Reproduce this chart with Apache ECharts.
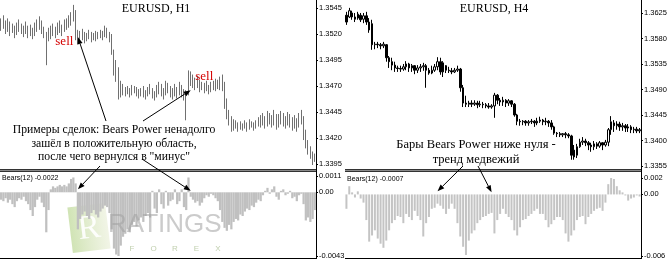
<!DOCTYPE html>
<html><head><meta charset="utf-8">
<script src="https://cdn.jsdelivr.net/npm/echarts@6/dist/echarts.min.js"></script>
<style>html,body{margin:0;padding:0;background:#fff}#c{width:670px;height:261px}</style>
</head><body><div id="c"></div>
<script>
// ---- DATA ----
// EURUSD H1 bars: [open, close, low, high]
const leftCandles = [
[1.3530,1.3527,1.3523,1.3535],[1.3527,1.3533,1.3525,1.3538],[1.3533,1.3524,1.3520,1.3533],[1.3524,1.3530,1.3522,1.3535],[1.3530,1.3521,1.3518,1.3532],
[1.3521,1.3526,1.3521,1.3530],[1.3526,1.3519,1.3516,1.3528],[1.3519,1.3528,1.3519,1.3531],[1.3528,1.3525,1.3522,1.3534],[1.3525,1.3522,1.3520,1.3530],
[1.3522,1.3520,1.3517,1.3528],[1.3520,1.3528,1.3520,1.3532],[1.3528,1.3519,1.3516,1.3528],[1.3519,1.3525,1.3518,1.3529],[1.3525,1.3518,1.3515,1.3526],
[1.3518,1.3529,1.3518,1.3531],[1.3529,1.3531,1.3522,1.3534],[1.3531,1.3528,1.3524,1.3537],[1.3528,1.3522,1.3520,1.3533],[1.3522,1.3519,1.3516,1.3527],
[1.3519,1.3515,1.3490,1.3522],[1.3515,1.3522,1.3513,1.3526],[1.3522,1.3519,1.3515,1.3528],[1.3519,1.3526,1.3518,1.3530],[1.3526,1.3521,1.3516,1.3527],
[1.3521,1.3528,1.3519,1.3531],[1.3528,1.3525,1.3521,1.3533],[1.3525,1.3523,1.3518,1.3529],[1.3523,1.3531,1.3522,1.3534],[1.3531,1.3528,1.3524,1.3535],
[1.3528,1.3535,1.3526,1.3538],[1.3535,1.3538,1.3528,1.3541],[1.3538,1.3540,1.3532,1.3548],[1.3540,1.3517,1.3514,1.3543],[1.3517,1.3519,1.3510,1.3524],
[1.3519,1.3516,1.3512,1.3523],[1.3516,1.3520,1.3514,1.3525],[1.3520,1.3515,1.3511,1.3522],[1.3515,1.3518,1.3513,1.3521],[1.3518,1.3521,1.3515,1.3524],
[1.3521,1.3516,1.3512,1.3522],[1.3516,1.3519,1.3514,1.3521],[1.3519,1.3517,1.3513,1.3523],[1.3517,1.3520,1.3515,1.3522],[1.3520,1.3519,1.3516,1.3524],
[1.3519,1.3521,1.3514,1.3523],[1.3521,1.3525,1.3517,1.3528],[1.3525,1.3520,1.3516,1.3526],[1.3520,1.3517,1.3512,1.3522],[1.3517,1.3503,1.3500,1.3520],
[1.3503,1.3485,1.3480,1.3505],[1.3485,1.3479,1.3474,1.3495],[1.3479,1.3464,1.3457,1.3488],[1.3464,1.3470,1.3459,1.3475],[1.3470,1.3465,1.3461,1.3472],
[1.3465,1.3463,1.3460,1.3469],[1.3463,1.3467,1.3462,1.3470],[1.3467,1.3462,1.3459,1.3468],[1.3462,1.3468,1.3461,1.3471],[1.3468,1.3465,1.3463,1.3470],
[1.3465,1.3462,1.3460,1.3469],[1.3462,1.3460,1.3458,1.3467],[1.3460,1.3465,1.3460,1.3468],[1.3465,1.3462,1.3459,1.3470],[1.3462,1.3460,1.3457,1.3466],
[1.3460,1.3466,1.3460,1.3469],[1.3466,1.3468,1.3462,1.3472],[1.3468,1.3461,1.3458,1.3468],[1.3461,1.3459,1.3456,1.3465],[1.3459,1.3467,1.3459,1.3471],
[1.3467,1.3471,1.3462,1.3474],[1.3471,1.3464,1.3460,1.3472],[1.3464,1.3461,1.3457,1.3468],[1.3461,1.3470,1.3461,1.3475],[1.3470,1.3467,1.3463,1.3473],
[1.3467,1.3462,1.3459,1.3470],[1.3462,1.3460,1.3457,1.3468],[1.3460,1.3468,1.3460,1.3472],[1.3468,1.3463,1.3458,1.3469],[1.3463,1.3470,1.3461,1.3474],
[1.3470,1.3465,1.3459,1.3471],[1.3465,1.3460,1.3456,1.3467],[1.3460,1.3464,1.3437,1.3466],[1.3464,1.3478,1.3461,1.3485],[1.3478,1.3475,1.3470,1.3484],
[1.3475,1.3472,1.3468,1.3481],[1.3472,1.3470,1.3466,1.3478],[1.3470,1.3474,1.3468,1.3480],[1.3474,1.3468,1.3464,1.3476],[1.3468,1.3470,1.3466,1.3474],
[1.3470,1.3466,1.3463,1.3473],[1.3466,1.3471,1.3465,1.3475],[1.3471,1.3467,1.3462,1.3471],[1.3467,1.3470,1.3464,1.3474],[1.3470,1.3472,1.3466,1.3475],
[1.3472,1.3469,1.3465,1.3477],[1.3469,1.3473,1.3467,1.3476],[1.3473,1.3476,1.3466,1.3479],[1.3476,1.3470,1.3465,1.3481],[1.3470,1.3452,1.3448,1.3474],
[1.3452,1.3441,1.3438,1.3458],[1.3441,1.3435,1.3432,1.3447],[1.3435,1.3431,1.3426,1.3441],[1.3431,1.3434,1.3427,1.3438],[1.3434,1.3432,1.3429,1.3437],
[1.3432,1.3429,1.3426,1.3435],[1.3429,1.3433,1.3428,1.3436],[1.3433,1.3430,1.3427,1.3434],[1.3430,1.3435,1.3429,1.3437],[1.3435,1.3429,1.3426,1.3435],
[1.3429,1.3434,1.3428,1.3438],[1.3434,1.3432,1.3430,1.3436],[1.3432,1.3430,1.3427,1.3435],[1.3430,1.3435,1.3429,1.3437],[1.3435,1.3437,1.3431,1.3440],
[1.3437,1.3434,1.3430,1.3442],[1.3434,1.3440,1.3432,1.3444],[1.3440,1.3435,1.3429,1.3441],[1.3435,1.3442,1.3431,1.3446],[1.3442,1.3438,1.3433,1.3444],
[1.3438,1.3434,1.3430,1.3442],[1.3434,1.3443,1.3432,1.3447],[1.3443,1.3433,1.3428,1.3443],[1.3433,1.3439,1.3430,1.3443],[1.3439,1.3442,1.3433,1.3446],
[1.3442,1.3436,1.3431,1.3444],[1.3436,1.3434,1.3429,1.3441],[1.3434,1.3441,1.3432,1.3445],[1.3441,1.3437,1.3430,1.3443],[1.3437,1.3432,1.3427,1.3440],
[1.3432,1.3438,1.3429,1.3442],[1.3438,1.3431,1.3426,1.3439],[1.3431,1.3440,1.3430,1.3444],[1.3440,1.3437,1.3433,1.3447],[1.3437,1.3424,1.3418,1.3441],
[1.3424,1.3413,1.3410,1.3428],[1.3413,1.3408,1.3404,1.3418],[1.3408,1.3403,1.3400,1.3412],[1.3403,1.3401,1.3394,1.3407],[1.3401,1.3402,1.3397,1.3405]
];
// Bears Power(12) on H1
const leftBears = [
-0.0005,-0.0006,-0.0004,-0.0007,-0.0005,-0.0008,-0.0010,-0.0006,-0.0004,-0.0005,
-0.0003,-0.0006,-0.0008,-0.0012,-0.0016,-0.0010,-0.0005,-0.0003,-0.0007,-0.0010,
-0.0027,-0.0012,0.0002,0.0004,0.0003,0.0004,0.0005,0.0004,0.0005,0.0004,
0.0006,0.0009,0.0010,0.0006,-0.0025,-0.0018,-0.0015,-0.0013,-0.0016,-0.0018,
-0.0014,-0.0012,-0.0015,-0.0017,-0.0013,-0.0011,-0.0009,-0.0010,-0.0014,-0.0025,
-0.0038,-0.0042,-0.0043,-0.0036,-0.0030,-0.0028,-0.0025,-0.0027,-0.0022,-0.0020,
-0.0023,-0.0019,-0.0017,-0.0020,-0.0016,-0.0014,-0.0017,0.0001,-0.0011,-0.0014,
0.0002,-0.0008,-0.0011,0.0001,-0.0009,-0.0006,-0.0005,0.0002,-0.0008,-0.0006,
0.0002,-0.0010,-0.0012,0.0010,-0.0003,-0.0005,-0.0007,-0.0006,-0.0009,-0.0007,
-0.0004,-0.0002,-0.0003,-0.0001,-0.0002,-0.0004,-0.0006,-0.0012,-0.0020,-0.0024,
-0.0026,-0.0022,-0.0025,-0.0020,-0.0018,-0.0019,-0.0015,-0.0016,-0.0013,-0.0011,
-0.0012,-0.0009,-0.0010,-0.0007,-0.0005,-0.0006,-0.0002,0.0001,0.0003,-0.0001,
0.0002,0.0004,-0.0003,-0.0005,0.0001,0.0002,-0.0002,-0.0001,0.0001,-0.0004,
-0.0003,-0.0006,-0.0002,-0.0001,-0.0008,-0.0019,-0.0017,-0.0020,-0.0018,-0.0012
];
// EURUSD H4 bars: [open, close, low, high]
const rightCandles = [
[1.3621,1.3609,1.3604,1.3627],[1.3618,1.3629,1.3616,1.3634],[1.3625,1.3618,1.3613,1.3629],[1.3618,1.3614,1.3609,1.3625],[1.3616,1.3623,1.3613,1.3627],
[1.3621,1.3613,1.3609,1.3625],[1.3614,1.3620,1.3607,1.3625],[1.3620,1.3609,1.3604,1.3627],[1.3609,1.3595,1.3590,1.3616],[1.3606,1.3569,1.3560,1.3613],
[1.3569,1.3570,1.3561,1.3574],[1.3570,1.3569,1.3563,1.3574],[1.3569,1.3567,1.3561,1.3572],[1.3567,1.3570,1.3563,1.3574],[1.3569,1.3546,1.3539,1.3570],
[1.3546,1.3539,1.3528,1.3549],[1.3539,1.3533,1.3524,1.3546],[1.3533,1.3528,1.3521,1.3539],[1.3528,1.3527,1.3521,1.3532],[1.3527,1.3526,1.3521,1.3532],
[1.3526,1.3530,1.3523,1.3535],[1.3530,1.3535,1.3524,1.3540],[1.3535,1.3528,1.3521,1.3537],[1.3528,1.3532,1.3521,1.3535],[1.3532,1.3524,1.3517,1.3533],
[1.3524,1.3528,1.3519,1.3533],[1.3528,1.3530,1.3521,1.3535],[1.3530,1.3532,1.3523,1.3537],[1.3532,1.3524,1.3493,1.3535],[1.3524,1.3519,1.3516,1.3528],
[1.3519,1.3524,1.3517,1.3532],[1.3524,1.3530,1.3521,1.3535],[1.3530,1.3539,1.3524,1.3547],[1.3539,1.3521,1.3516,1.3546],[1.3521,1.3537,1.3512,1.3540],
[1.3532,1.3524,1.3519,1.3533],[1.3524,1.3523,1.3519,1.3530],[1.3523,1.3521,1.3517,1.3528],[1.3521,1.3524,1.3519,1.3528],[1.3524,1.3526,1.3521,1.3532],
[1.3526,1.3493,1.3486,1.3528],[1.3493,1.3466,1.3459,1.3498],[1.3466,1.3464,1.3459,1.3479],[1.3464,1.3466,1.3459,1.3470],[1.3466,1.3464,1.3459,1.3471],
[1.3464,1.3466,1.3461,1.3471],[1.3466,1.3463,1.3457,1.3470],[1.3463,1.3464,1.3459,1.3470],[1.3464,1.3463,1.3457,1.3468],[1.3463,1.3461,1.3457,1.3466],
[1.3461,1.3459,1.3456,1.3466],[1.3459,1.3461,1.3456,1.3464],[1.3461,1.3480,1.3440,1.3484],[1.3480,1.3471,1.3464,1.3482],[1.3471,1.3468,1.3461,1.3475],
[1.3468,1.3471,1.3461,1.3477],[1.3471,1.3466,1.3459,1.3473],[1.3466,1.3470,1.3461,1.3473],[1.3470,1.3464,1.3459,1.3471],[1.3464,1.3445,1.3442,1.3466],
[1.3445,1.3434,1.3427,1.3447],[1.3434,1.3433,1.3426,1.3438],[1.3433,1.3434,1.3427,1.3436],[1.3434,1.3431,1.3426,1.3436],[1.3431,1.3433,1.3426,1.3436],
[1.3433,1.3434,1.3429,1.3438],[1.3434,1.3431,1.3424,1.3436],[1.3431,1.3434,1.3427,1.3440],[1.3434,1.3436,1.3431,1.3442],[1.3436,1.3433,1.3427,1.3438],
[1.3433,1.3434,1.3427,1.3440],[1.3434,1.3431,1.3424,1.3436],[1.3431,1.3424,1.3419,1.3436],[1.3424,1.3413,1.3410,1.3426],[1.3413,1.3412,1.3406,1.3415],
[1.3412,1.3410,1.3406,1.3415],[1.3410,1.3412,1.3406,1.3413],[1.3412,1.3410,1.3404,1.3415],[1.3410,1.3408,1.3404,1.3413],[1.3408,1.3374,1.3366,1.3410],
[1.3383,1.3371,1.3366,1.3392],[1.3374,1.3389,1.3369,1.3394],[1.3389,1.3397,1.3387,1.3403],[1.3397,1.3399,1.3392,1.3406],[1.3399,1.3396,1.3390,1.3403],
[1.3396,1.3392,1.3383,1.3399],[1.3392,1.3389,1.3380,1.3396],[1.3389,1.3394,1.3383,1.3399],[1.3394,1.3390,1.3385,1.3397],[1.3390,1.3396,1.3387,1.3399],
[1.3396,1.3392,1.3383,1.3397],[1.3392,1.3397,1.3389,1.3401],[1.3397,1.3419,1.3390,1.3422],[1.3419,1.3433,1.3410,1.3443],[1.3431,1.3426,1.3415,1.3436],
[1.3426,1.3429,1.3419,1.3434],[1.3429,1.3424,1.3417,1.3433],[1.3424,1.3426,1.3417,1.3431],[1.3426,1.3422,1.3415,1.3429],[1.3422,1.3424,1.3415,1.3429],
[1.3424,1.3419,1.3413,1.3427],[1.3419,1.3420,1.3413,1.3424],[1.3420,1.3417,1.3413,1.3424],[1.3417,1.3419,1.3413,1.3422]
];
// Bears Power(12) on H4
const rightBears = [
-0.0014,0.0008,0.0002,-0.0003,0.0003,-0.0004,-0.0008,-0.0025,-0.0046,-0.0040,
-0.0035,-0.0043,-0.0048,-0.0052,-0.0045,-0.0035,-0.0028,-0.0025,-0.0021,-0.0022,
-0.0028,-0.0019,-0.0022,-0.0025,-0.0016,-0.0021,-0.0025,-0.0041,-0.0028,-0.0022,
-0.0014,-0.0013,-0.0009,-0.0011,-0.0014,-0.0019,-0.0014,-0.0009,-0.0014,-0.0028,
-0.0041,-0.0051,-0.0059,-0.0045,-0.0038,-0.0035,-0.0028,-0.0025,-0.0022,-0.0021,
-0.0019,-0.0018,-0.0038,-0.0025,-0.0019,-0.0014,-0.0019,-0.0022,-0.0025,-0.0035,
-0.0040,-0.0032,-0.0025,-0.0024,-0.0021,-0.0019,-0.0016,-0.0014,-0.0019,-0.0019,
-0.0025,-0.0032,-0.0029,-0.0025,-0.0022,-0.0022,-0.0025,-0.0038,-0.0046,-0.0040,
-0.0035,-0.0025,-0.0022,-0.0021,-0.0029,-0.0022,-0.0019,-0.0016,-0.0014,-0.0013,
-0.0016,-0.0008,0.0010,0.0016,0.0015,0.0008,0.0004,0.0002,-0.0001,-0.0006,
-0.0004,-0.0003,-0.0001,-0.0002
];
const leftCategories = leftCandles.map((_, i) => 'H1 #' + (i + 1));
const rightCategories = rightCandles.map((_, i) => 'H4 #' + (i + 1));
const leftPriceTicks = [1.3395, 1.3420, 1.3445, 1.3470, 1.3495, 1.3520, 1.3545];
const rightPriceTicks = [1.3355, 1.3400, 1.3445, 1.3490, 1.3535, 1.3580, 1.3625];
const leftBearsTicks = [0.0011, 0, -0.0043];
const leftBearsTickLabels = ['0.0011', '0.00', '-0.0043'];
const rightBearsTicks = [0.0016, 0, -0.006];
const rightBearsTickLabels = ['0.002', '0.00', '-0.006'];
const titles = ['EURUSD, H1', 'EURUSD, H4'];
const indicatorNames = ['Bears(12) -0.0022', 'Bears(12) -0.0007'];
const leftNote = ['Примеры сделок: Bears Power ненадолго', 'зашёл в положительную область,', 'после чего вернулся в "минус"'];
const rightNote = ['Бары Bears Power ниже нуля -', 'тренд медвежий'];
// sell signals: [grid, bar index, price]
const sellMarks = [[0, 24, 1.3513], [0, 86, 1.3479]];
// arrows: target [grid, bar index, value], start in pixels near the note text
const arrowTargets = [
  { grid: 0, at: [34, 1.3517], from: [106, 121] },
  { grid: 0, at: [84, 1.3466], from: [143, 121] },
  { grid: 1, at: [34, 0.0002], from: [100, 166] },
  { grid: 1, at: [84, 0.0001], from: [142, 159] },
  { grid: 3, at: [32, 0.0003], from: [463, 166] },
  { grid: 3, at: [51, 0.0002], from: [478, 166] }
];

// ---- CHART ----
const chart = echarts.init(document.getElementById('c'), null, { renderer: 'canvas' });
function pick(ticks, labels) {
  return function (v) {
    let b = 0;
    for (let i = 0; i < ticks.length; i++) if (Math.abs(ticks[i] - v) < Math.abs(ticks[b] - v)) b = i;
    return labels[b];
  };
}
function yAx(gridIndex, min, max, ticks, fmt) {
  return {
    type: 'value', gridIndex, position: 'right', min, max,
    axisLine: { show: false }, splitLine: { show: false },
    axisTick: { show: true, customValues: ticks, length: 2, lineStyle: { color: '#000' } },
    axisLabel: { customValues: ticks, formatter: fmt, fontSize: 7.5, fontFamily: 'Liberation Sans', color: '#000', margin: 3, showMinLabel: true, showMaxLabel: true }
  };
}
function xAx(gridIndex, data) {
  return { type: 'category', gridIndex, data, boundaryGap: true, show: false };
}
const grids = [
  { left: 0, top: 0, width: 316, height: 170 },
  { left: 0, top: 176, width: 316, height: 80 },
  { left: 345, top: 0, width: 296, height: 170 },
  { left: 345, top: 178, width: 296, height: 78 }
];
chart.setOption({
  animation: false,
  backgroundColor: '#fff',
  grid: grids,
  xAxis: [xAx(0, leftCategories), xAx(1, leftCategories), xAx(2, rightCategories), xAx(3, rightCategories)],
  yAxis: [
    yAx(0, 1.33892, 1.35527, leftPriceTicks, v => v.toFixed(4)),
    yAx(1, -0.0043, 0.0011, leftBearsTicks, pick(leftBearsTicks, leftBearsTickLabels)),
    yAx(2, 1.33479, 1.36479, rightPriceTicks, v => v.toFixed(4)),
    yAx(3, -0.006, 0.0016, rightBearsTicks, pick(rightBearsTicks, rightBearsTickLabels))
  ],
  series: [
    { type: 'candlestick', xAxisIndex: 0, yAxisIndex: 0, data: leftCandles, barWidth: 1,
      itemStyle: { color: '#707070', color0: '#707070', borderColor: '#707070', borderColor0: '#707070', borderWidth: 1 } },
    { type: 'bar', xAxisIndex: 1, yAxisIndex: 1, data: leftBears, barCategoryGap: '0%', itemStyle: { color: '#c0c0c0' } },
    { type: 'candlestick', xAxisIndex: 2, yAxisIndex: 2, data: rightCandles, barWidth: 2,
      itemStyle: { color: '#ffffff', color0: '#000000', borderColor: '#000000', borderColor0: '#000000', borderWidth: 1 } },
    { type: 'bar', xAxisIndex: 3, yAxisIndex: 3, data: rightBears, barWidth: 2, itemStyle: { color: '#c4c4c4' } }
  ]
});

function arrow(x1, y1, x2, y2) {
  const a = Math.atan2(y2 - y1, x2 - x1), L = 7, W = 2.6;
  const bx = x2 - L * Math.cos(a), by = y2 - L * Math.sin(a);
  return [
    { type: 'line', shape: { x1, y1, x2: bx, y2: by }, style: { stroke: '#000', lineWidth: 1 }, z: 50 },
    { type: 'polygon', shape: { points: [[x2, y2], [bx + W * Math.sin(a), by - W * Math.cos(a)], [bx - W * Math.sin(a), by + W * Math.cos(a)]] }, style: { fill: '#000' }, z: 50 }
  ];
}
const serif = 'Liberation Serif, Times New Roman, serif';
const g = [];
// panel frame lines
[[0, 316], [345, 641]].forEach(([a, b]) => {
  g.push({ type: 'rect', shape: { x: a, y: 169, width: b - a + 1, height: 3 }, style: { fill: '#8a8a8a' }, z: 40 });
  g.push({ type: 'line', shape: { x1: a, y1: 169.5, x2: b + 1, y2: 169.5 }, style: { stroke: '#333', lineWidth: 1 }, z: 41 });
  g.push({ type: 'line', shape: { x1: a, y1: 171.5, x2: b + 1, y2: 171.5 }, style: { stroke: '#333', lineWidth: 1 }, z: 41 });
  g.push({ type: 'line', shape: { x1: a, y1: 258.5, x2: b + 1, y2: 258.5 }, style: { stroke: '#000', lineWidth: 1 }, z: 41 });
  g.push({ type: 'line', shape: { x1: b + 0.5, y1: 0, x2: b + 0.5, y2: 259 }, style: { stroke: '#000', lineWidth: 1 }, z: 41 });
});
// titles
g.push({ type: 'text', x: 156, y: 9, style: { text: titles[0], font: '12px ' + serif, fill: '#000', align: 'center', verticalAlign: 'middle' }, z: 60 });
g.push({ type: 'text', x: 494, y: 9, style: { text: titles[1], font: '12px ' + serif, fill: '#000', align: 'center', verticalAlign: 'middle' }, z: 60 });
// indicator names
g.push({ type: 'text', x: 2, y: 178, style: { text: indicatorNames[0], font: '7px Liberation Sans', fill: '#000', verticalAlign: 'middle' }, z: 60 });
g.push({ type: 'text', x: 347, y: 179, style: { text: indicatorNames[1], font: '7px Liberation Sans', fill: '#000', verticalAlign: 'middle' }, z: 60 });
// notes
leftNote.forEach((t, i) => g.push({ type: 'text', x: 114, y: 130 + i * 13.5, style: { text: t, font: '11.7px ' + serif, fill: '#000', align: 'center', verticalAlign: 'middle' }, z: 60 }));
rightNote.forEach((t, i) => g.push({ type: 'text', x: 476, y: 145 + i * 15, style: { text: t, font: '12.5px ' + serif, fill: '#000', align: 'center', verticalAlign: 'middle' }, z: 60 }));
// sell labels
sellMarks.forEach(([gi, idx, price]) => {
  const p = chart.convertToPixel({ gridIndex: gi }, [idx, price]);
  g.push({ type: 'text', x: p[0], y: p[1], style: { text: 'sell', font: '13px ' + serif, fill: '#d40000', verticalAlign: 'middle' }, z: 60 });
});
// arrows
arrowTargets.forEach(a => {
  const p = chart.convertToPixel({ gridIndex: a.grid }, a.at);
  arrow(a.from[0], a.from[1], p[0], p[1]).forEach(e => g.push(e));
});
// watermark
g.push({ type: 'group', x: 89, y: 228, rotation: 0.12, z: 30, children: [
  { type: 'rect', shape: { x: -19, y: -23, width: 38, height: 46 },
    style: { fill: new echarts.graphic.LinearGradient(0, 0, 1, 0, [{ offset: 0, color: 'rgba(170,205,120,0.55)' }, { offset: 1, color: 'rgba(225,232,200,0.45)' }]) } },
  { type: 'text', x: 0, y: 1, style: { text: 'R', font: '34px ' + serif, fill: 'rgba(255,255,255,0.9)', align: 'center', verticalAlign: 'middle' } }
] });
g.push({ type: 'text', x: 108, y: 225, style: { text: 'RATINGS', font: '26px Liberation Sans', fill: 'rgba(160,160,160,0.55)', verticalAlign: 'middle' }, z: 30 });
['F', 'O', 'R', 'E', 'X'].forEach((ch, i) => g.push({ type: 'text', x: 132 + i * 21.5, y: 249, style: { text: ch, font: '8px Liberation Sans', fill: 'rgba(150,175,120,0.6)', align: 'center', verticalAlign: 'middle' }, z: 30 }));
chart.setOption({ graphic: { elements: g } });
</script>
</body></html>
